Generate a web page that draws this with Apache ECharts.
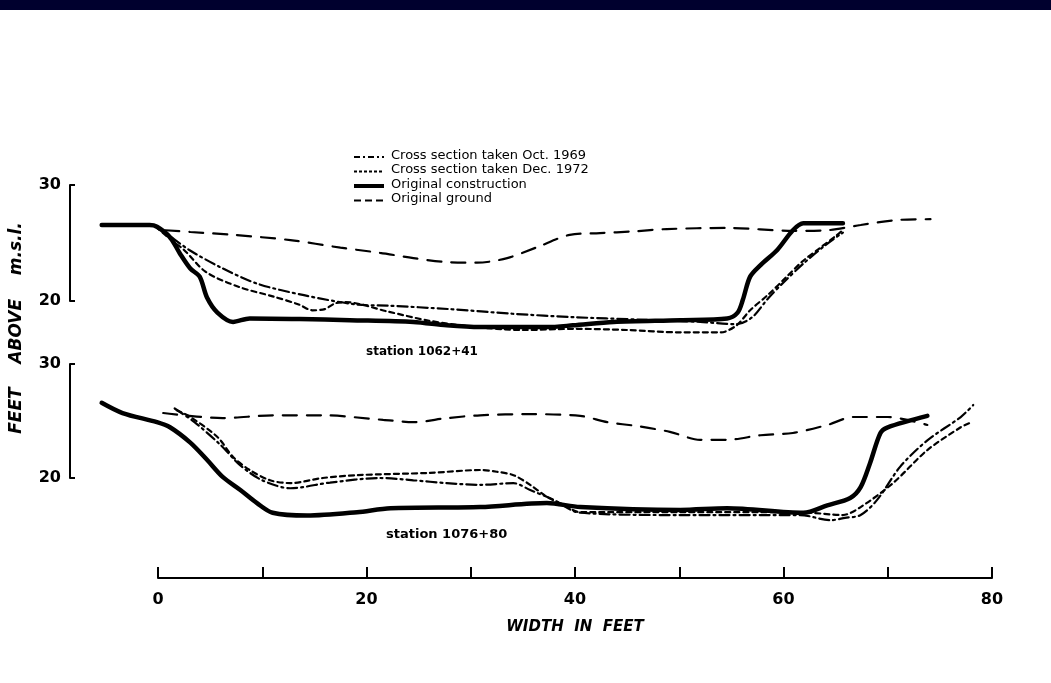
<!DOCTYPE html>
<html>
<head>
<meta charset="UTF-8">
<title>Cross sections</title>
<script src="https://cdn.jsdelivr.net/npm/echarts@6/dist/echarts.min.js"></script>
<style>
body { margin: 0; padding: 0; background: #fff; }
#main { width: 1051px; height: 683px; }
</style>
</head>
<body>
<div id="main"></div>
<script>
// legend / series names
var seriesNames = ['Cross section taken Oct. 1969', 'Cross section taken Dec. 1972', 'Original construction', 'Original ground'];
var xTicks = [0, 20, 40, 60, 80];
var yTicks = [20, 30];

// station 1062+41 (top) - [width ft, elevation ft]
var oct69Top = [[-0.2,26.5],[1,25.7],[3,24.4],[6,22.9],[9.5,21.5],[14,20.5],[19,19.7],[22,19.6],[28,19.3],[34,18.9],[40,18.6],[46,18.4],[52,18.2],[55.5,18.0],[57,18.6],[58.5,20.2],[60,21.6],[62,23.3],[64,24.8],[65.7,25.9]];
var dec72Top = [[-0.2,26.4],[1.2,25.3],[2.5,24.4],[4.6,22.5],[7.8,21.2],[11,20.4],[13.5,19.7],[14.8,19.2],[16,19.3],[17,19.8],[18,19.9],[22,19.1],[26,18.3],[30,17.8],[35,17.5],[40,17.6],[45,17.5],[50,17.3],[54,17.3],[55.5,17.9],[56.8,19.2],[58.6,20.6],[60.2,22.0],[61.8,23.4],[63.4,24.5],[65,25.6],[65.7,26.1]];
var constrTop = [[-5.4,26.55],[-0.8,26.55],[-0.1,26.4],[1.15,25.5],[2.1,24.1],[3.1,22.8],[4.0,22.1],[4.7,20.3],[5.7,19.0],[7.2,18.2],[8.8,18.5],[13.6,18.45],[18.4,18.35],[24.5,18.2],[27.7,17.9],[30.9,17.75],[34.1,17.75],[37.3,17.75],[39.8,17.9],[43.7,18.2],[50.1,18.35],[54.6,18.5],[55.6,19.0],[56.1,20.1],[56.8,22.1],[57.8,23.1],[59.4,24.4],[60.9,26.1],[61.9,26.7],[65.7,26.7]];
var groundTop = [[0.7,26.1],[3.1,25.95],[7.2,25.7],[12.7,25.25],[17.5,24.6],[21.3,24.15],[24.5,23.7],[27.7,23.35],[30.6,23.3],[33.5,23.7],[36.4,24.65],[39.5,25.7],[42.4,25.85],[45.6,26.0],[48.8,26.2],[54.6,26.3],[60.9,26.05],[64.2,26.1],[67.4,26.55],[71.2,27.0],[74.1,27.05]];

// station 1076+80 (bottom)
var oct69Bot = [[1.6,26.1],[3.5,24.9],[6.0,22.9],[7.9,21.1],[10.0,19.8],[12.7,19.1],[16.5,19.6],[21.3,20.0],[24.5,19.8],[27.7,19.55],[30.9,19.4],[34.1,19.55],[35.7,18.95],[37.9,18.1],[40.5,16.95],[50.1,16.75],[61.6,16.75],[64.5,16.3],[65.9,16.5],[67.4,16.75],[69.0,18.1],[71.2,21.0],[73.8,23.3],[77.0,25.35],[78.2,26.4]];
var dec72Bot = [[1.8,25.95],[3.1,25.35],[5.7,23.6],[7.2,21.85],[8.8,20.7],[10.75,19.8],[12.7,19.55],[15.8,20.0],[19.1,20.25],[26.1,20.45],[30.9,20.7],[32.5,20.55],[34.1,20.25],[35.7,19.4],[37.3,18.35],[38.9,17.65],[40.5,17.0],[50.1,17.0],[61.6,17.0],[65.7,16.75],[67.4,17.45],[70.5,19.55],[73.8,22.45],[77.0,24.45],[77.8,24.8]];
var constrBot = [[-5.4,26.6],[-3.4,25.7],[-0.1,24.9],[1.15,24.45],[3.1,23.1],[4.7,21.6],[6.2,20.1],[7.9,18.95],[9.5,17.8],[11.0,16.95],[14.3,16.7],[19.1,17.0],[22.3,17.35],[30.9,17.45],[37.3,17.8],[40.5,17.45],[50.1,17.2],[54.6,17.35],[61.9,16.95],[64.2,17.6],[66.4,18.25],[67.4,19.2],[68.3,21.3],[69.3,23.95],[70.0,24.45],[73.8,25.45]];
var groundBot = [[0.5,25.7],[6.2,25.25],[11.0,25.5],[15.8,25.5],[21.6,25.1],[24.5,24.9],[27.7,25.25],[30.9,25.5],[35.7,25.6],[40.5,25.45],[43.1,24.9],[46.0,24.55],[49.1,24.05],[52.0,23.35],[54.6,23.35],[57.8,23.75],[60.9,23.95],[64.2,24.65],[66.7,25.35],[70.0,25.35],[73.8,24.65]];

var styles = [
    { width: 2.2, type: [10, 4, 2, 4] },
    { width: 2.2, type: [5, 4] },
    { width: 4.5, type: 'solid' },
    { width: 2.2, type: [14, 10] }
];

function mkSeries(name, data, idx, gi) {
    return {
        name: name,
        type: 'line',
        xAxisIndex: gi,
        yAxisIndex: gi,
        data: data,
        smooth: 0.3,
        symbol: 'none',
        clip: false,
        silent: true,
        lineStyle: { color: '#000', width: styles[idx].width, type: styles[idx].type, cap: 'round' }
    };
}

var series = [];
[[oct69Top, dec72Top, constrTop, groundTop], [oct69Bot, dec72Bot, constrBot, groundBot]].forEach(function (set, gi) {
    set.forEach(function (d, i) { series.push(mkSeries(seriesNames[i], d, i, gi)); });
});

var fontMain = 'DejaVu Sans';

// legend drawn as graphic: sample line + text
var legendGraphic = [];
seriesNames.forEach(function (n, i) {
    var y = 157 + i * 14.5;
    legendGraphic.push({
        type: 'line', shape: { x1: 354, y1: y, x2: 384, y2: y },
        style: { stroke: '#000', lineWidth: i == 2 ? 4 : 1.8, lineDash: i == 2 ? null : (i == 0 ? [6, 3, 2, 3] : (i == 1 ? [3, 2] : [7, 4])) }
    });
    legendGraphic.push({
        type: 'text', left: 391, top: y - 8,
        style: { text: n, font: '13px ' + fontMain, fill: '#000' }
    });
});

var chart = echarts.init(document.getElementById('main'));
// panel x range starts left of 0 so the bracket axis sits at x=70
var panelXMin = -8.44;
var panelY = {
    type: 'value', min: 20, max: 30, interval: 10,
    axisLine: { show: true, onZero: false, lineStyle: { color: '#000', width: 2 } },
    axisTick: { show: true, inside: true, length: 5, lineStyle: { color: '#000', width: 2 } },
    axisLabel: { color: '#000', fontSize: 16, fontWeight: 'bold', fontFamily: fontMain, margin: 9 },
    splitLine: { show: false }
};
var hiddenX = { type: 'value', min: panelXMin, max: 80, show: false };

chart.setOption({
    backgroundColor: '#fff',
    animation: false,
    grid: [
        { left: 70, right: 59, top: 185, height: 116 },
        { left: 70, right: 59, top: 364, height: 114 },
        { left: 158, right: 59, top: 468, height: 110 }
    ],
    xAxis: [
        Object.assign({ gridIndex: 0 }, hiddenX),
        Object.assign({ gridIndex: 1 }, hiddenX),
        {
            gridIndex: 2, type: 'value', min: 0, max: 80, interval: 10,
            name: 'WIDTH  IN  FEET', nameLocation: 'middle', nameGap: 42,
            nameTextStyle: { color: '#000', fontSize: 15, fontStyle: 'italic', fontWeight: 'bold', fontFamily: fontMain },
            axisLine: { show: true, lineStyle: { color: '#000', width: 2 } },
            axisTick: { show: true, inside: true, length: 11, lineStyle: { color: '#000', width: 2 } },
            axisLabel: {
                color: '#000', fontSize: 16, fontWeight: 'bold', fontFamily: fontMain, margin: 14,
                formatter: function (v) { return xTicks.indexOf(v) >= 0 ? String(v) : ''; }
            },
            splitLine: { show: false }
        }
    ],
    yAxis: [
        Object.assign({ gridIndex: 0 }, panelY),
        Object.assign({ gridIndex: 1 }, panelY),
        { gridIndex: 2, type: 'value', show: false }
    ],
    series: series,
    graphic: [
        { type: 'rect', shape: { x: 0, y: 0, width: 1051, height: 10 }, style: { fill: '#00002e' } },
        {
            type: 'text', x: 17, y: 328, rotation: Math.PI / 2,
            style: { text: 'FEET    ABOVE    m.s.l.', font: 'italic bold 17px ' + fontMain, fill: '#000', align: 'center', verticalAlign: 'middle' }
        },
        { type: 'text', left: 366, top: 346, style: { text: 'station 1062+41', font: 'bold 12px ' + fontMain, fill: '#000' } },
        { type: 'text', left: 386, top: 528, style: { text: 'station 1076+80', font: 'bold 13px ' + fontMain, fill: '#000' } }
    ].concat(legendGraphic)
});
</script>
</body>
</html>
